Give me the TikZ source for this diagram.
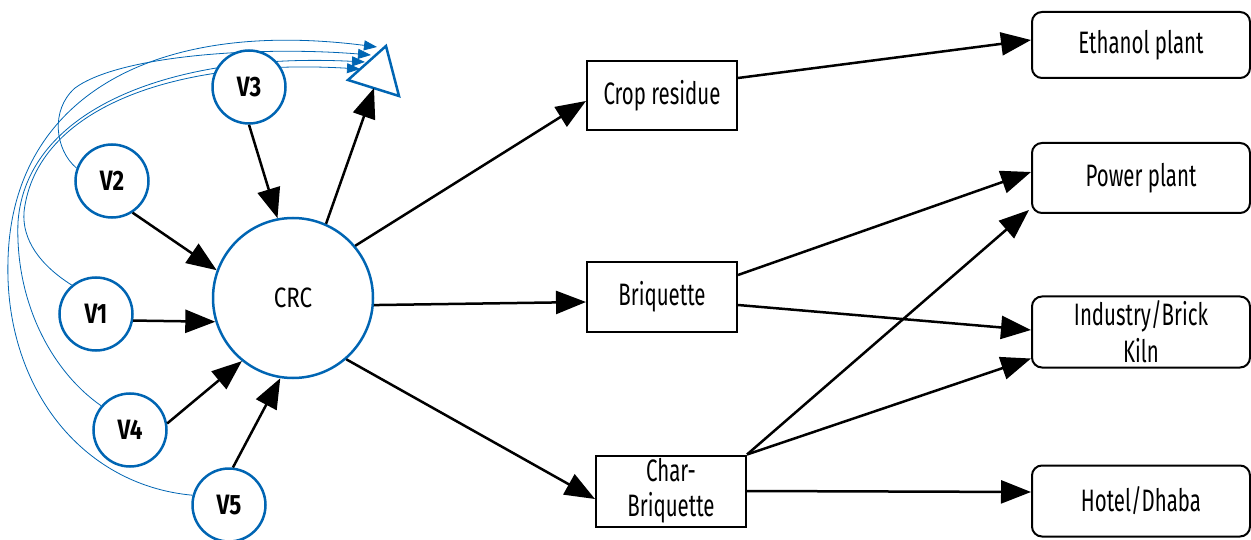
\documentclass[tikz,border=0pt]{standalone}
\usepackage{fontspec}
\setmainfont{Fira Sans}[FakeStretch=0.66]
\newfontfamily\labelfont{Fira Sans}[FakeStretch=0.8]
\usetikzlibrary{arrows.meta,positioning,backgrounds}
\definecolor{crcblue}{RGB}{0,101,179}
\tikzset{
  vnode/.style={circle, draw=crcblue, line width=2.5pt, fill=white, minimum size=73pt, inner sep=0pt,
    font=\labelfont\fontsize{28}{30}\selectfont\bfseries},
  crcnode/.style={vnode, minimum size=160pt, font=\labelfont\fontsize{28}{30}\selectfont},
  stage/.style={draw, line width=2pt, minimum width=150pt, minimum height=69pt, inner sep=2pt,
    align=center, font=\fontsize{31}{35}\selectfont},
  enduse/.style={stage, rounded corners=10pt, minimum width=218pt},
  flow/.style={-{Triangle[length=30pt,width=23pt]}, line width=2.5pt},
  feedback/.style={draw=crcblue, line width=0.8pt, -{Triangle[length=13pt,width=10pt]}},
}
\begin{document}
\begin{tikzpicture}[x=1pt, y=-1pt]
  \useasboundingbox (0,0) rectangle (1251,540);
  % collection centre and villages
  \node[crcnode] (CRC) at (293,298) {CRC};
  \node[vnode] (V1) at (96,314) {V1};
  \node[vnode] (V2) at (112,181) {V2};
  \node[vnode] (V3) at (249,87) {V3};
  \node[vnode] (V4) at (130,430) {V4};
  \node[vnode] (V5) at (229,505) {V5};
  % products
  \node[stage] (crop) at (662,96) {Crop residue};
  \node[stage] (briq) at (662,297) {Briquette};
  \node[stage, minimum height=71pt] (char) at (671,491) {Char-\\Briquette};
  % end users
  \node[enduse, minimum height=66pt] (eth) at (1141,45) {Ethanol plant};
  \node[enduse, minimum height=70pt] (power) at (1141,178) {Power plant};
  \node[enduse, minimum height=71pt] (ind) at (1141,332) {Industry/Brick\\[2pt]Kiln};
  \node[enduse, minimum height=71pt] (hotel) at (1141,501) {Hotel/Dhaba};
  % open triangle
  \coordinate (tribase) at (374,88);
  \coordinate (in5) at (377,47);
  \coordinate (in2) at (371,55);
  \coordinate (in4) at (365,62);
  \coordinate (in1) at (360,69);
  \draw[crcblue, line width=2.5pt, line join=miter] (348,80) -- (386,46) -- (399,96) -- cycle;
  % feedback lines
  \begin{scope}[on background layer]
    \draw[feedback] (V5.165) .. controls (80,485) and (4,385) .. (8,260)
      .. controls (12,100) and (150,18) .. (in5);
    \draw[feedback] (V2.160) .. controls (55,150) and (50,110) .. (75,88)
      .. controls (120,55) and (260,46) .. (in2);
    \draw[feedback] (V4.140) .. controls (50,370) and (15,300) .. (18,222)
      .. controls (26,110) and (170,52) .. (in4);
    \draw[feedback] (V1.130) .. controls (40,265) and (22,240) .. (24,212)
      .. controls (36,108) and (175,58) .. (in1);
  \end{scope}
  % flows into CRC
  \draw[flow] (V3.south) -- (CRC.101);
  \draw[flow] (V2.-57) -- (CRC.160);
  \draw[flow] (V1.-10) -- (CRC.197);
  \draw[flow] (V4.10) -- (CRC.231);
  \draw[flow] (V5.84) -- (CRC.261);
  \draw[flow] (CRC.66) -- (tribase);
  % flows out of CRC
  \draw[flow] (CRC.40) -- ([yshift=-5pt]crop.west);
  \draw[flow] (CRC.-5) -- ([yshift=-5pt]briq.west);
  \draw[flow] (CRC.-49) -- ([yshift=-8pt]char.west);
  % flows to end users
  \draw[flow] ([yshift=18pt]crop.east) -- ([yshift=5pt]eth.west);
  \draw[flow] ([yshift=22pt]briq.east) -- ([yshift=6pt]power.west);
  \draw[flow] ([yshift=-8pt]briq.east) -- ([yshift=2pt]ind.west);
  \draw[flow] (char.north east) -- ([xshift=-2pt,yshift=4pt]power.south west);
  \draw[flow] (char.north east) -- ([yshift=10pt]ind.south west);
  \draw[flow] (char.east) -- ([yshift=9pt]hotel.west);
\end{tikzpicture}
\end{document}
